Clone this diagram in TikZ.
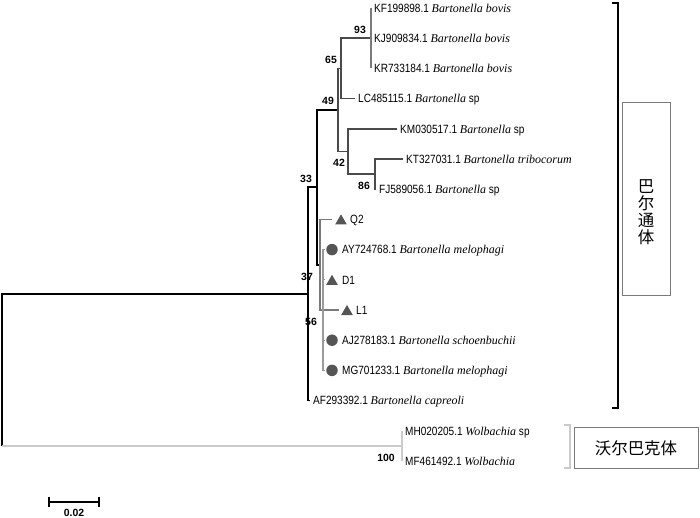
\documentclass[tikz,border=0pt]{standalone}
\usepackage{fontspec}
\setmainfont{Liberation Serif}
\newfontfamily\accfont[FakeStretch=0.84]{Liberation Sans}
\newfontfamily\bsfont{Liberation Sans}
\newfontfamily\cjk{Noto Sans CJK SC}
\usetikzlibrary{positioning}
\usetikzlibrary{shapes.geometric}
\usetikzlibrary{arrows.meta}
\definecolor{dg}{HTML}{4A4A4A}
\definecolor{mg}{HTML}{7A7A7A}
\definecolor{pg}{HTML}{9A9A9A}
\definecolor{lg}{HTML}{CBCBCB}
\definecolor{mk}{HTML}{555555}
\newcommand{\taxon}[1]{{\rmfamily\itshape #1}}
\tikzstyle{tree}=[x=1bp, y=-1bp, line join=miter]
\tikzstyle{brB}=[draw=black, line width=1.7bp]
\tikzstyle{br}=[draw=dg, line width=1.5bp]
\tikzstyle{brG}=[draw=mg, line width=1.3bp]
\tikzstyle{brP}=[draw=pg, line width=1.2bp]
\tikzstyle{brL}=[draw=lg, line width=1.5bp]
\tikzstyle{lf}=[anchor=west, inner sep=0pt, xshift=3bp, text height=8.6bp, text depth=0pt, font=\fontsize{12}{14}\selectfont\accfont]
\tikzstyle{bs}=[inner sep=0pt, font=\fontsize{10.5}{12}\selectfont\bsfont\bfseries]
\tikzstyle{tri}=[regular polygon, regular polygon sides=3, fill=mk, inner sep=0pt, minimum size=13.5bp, yshift=-1.7bp]
\tikzstyle{dot}=[circle, fill=mk, inner sep=0pt, minimum size=11.5bp]
\tikzstyle{box}=[draw=mg, line width=1bp, inner sep=0pt]
\tikzstyle{cn}=[inner sep=0pt, font=\fontsize{16.5}{17}\selectfont\cjk]

\begin{document}
\begin{tikzpicture}[tree]
	\useasboundingbox (0,0) rectangle (700,518);
	%% inner nodes
	\coordinate (rootb) at (2,445.9);
	\coordinate (n56) at (308,293.9);
	\coordinate (n33) at (317,187.3);
	\coordinate (n49) at (338,109.9);
	\coordinate (n65) at (341,68.4);
	\coordinate (n93) at (371,38.2);
	\coordinate (n42) at (348,151.4);
	\coordinate (n86) at (375,174.1);
	\coordinate (n37) at (320,264.7);
	\coordinate (npol) at (323,310);
	\coordinate (nwol) at (402,445.9);
	%% leaves
	\coordinate (kf) at (371,8);
	\coordinate (kj) at (371,38.2);
	\coordinate (kr) at (371,68.4);
	\coordinate (lc) at (355,98.6);
	\coordinate (km) at (397,128.8);
	\coordinate (kt) at (403,159);
	\coordinate (fj) at (376,189.2);
	\coordinate (q2) at (332,219.4);
	\coordinate (ay) at (325,249.6);
	\coordinate (d1) at (325,279.8);
	\coordinate (l1) at (339,310);
	\coordinate (aj) at (325,340.2);
	\coordinate (mg) at (325,370.4);
	\coordinate (af) at (310,400.6);
	\coordinate (mh) at (402,430.8);
	\coordinate (mf) at (402,461);
	%%%%%%
	\draw[brB] (n56) -| (rootb);
	\draw[brL] (rootb) -- (nwol);
	\draw[brB] (n56) |- (n33);
	\draw[brB] (n56) |- (af);
	\draw[brB] (n33) |- (n49);
	\draw[brB] (n33) |- (n37);
	%%
	\draw[br] (n49) |- (n65);
	\draw[br] (n49) |- (n42);
	\draw[br] (n65) |- (n93);
	\draw[br] (n65) |- (lc);
	\draw[brG] (n93) -- (kf);
	\draw[brG] (n93) -- (kr);
	\draw[br] (n42) |- (km);
	\draw[br] (n42) |- (n86);
	\draw[br] (n86) |- (kt);
	\draw[br] (n86) |- (fj);
	%%
	\draw[brG] (n37) |- (q2);
	\draw[brG] (n37) |- (l1);
	\draw[brP] (npol) |- (ay);
	\draw[brP] (npol) |- (d1);
	\draw[brP] (npol) |- (aj);
	\draw[brP] (npol) |- (mg);
	%%
	\draw[brL] (nwol) -- (mh);
	\draw[brL] (nwol) -- (mf);
	%%%%%%
	\node[lf] (kfL) at (kf) {KF199898.1 \taxon{Bartonella bovis}};
	\node[lf] (kjL) at (kj) {KJ909834.1 \taxon{Bartonella bovis}};
	\node[lf] (krL) at (kr) {KR733184.1 \taxon{Bartonella bovis}};
	\node[lf] (lcL) at (lc) {LC485115.1 \taxon{Bartonella} sp};
	\node[lf] (kmL) at (km) {KM030517.1 \taxon{Bartonella} sp};
	\node[lf] (ktL) at (kt) {KT327031.1 \taxon{Bartonella tribocorum}};
	\node[lf] (fjL) at (fj) {FJ589056.1 \taxon{Bartonella} sp};
	\node[lf] (afL) at (af) {AF293392.1 \taxon{Bartonella capreoli}};
	\node[lf] (mhL) at (mh) {MH020205.1 \taxon{Wolbachia} sp};
	\node[lf] (mfL) at (mf) {MF461492.1 \taxon{Wolbachia}};
	%%
	\node[tri, xshift=9bp] (q2m) at (q2) {};
	\node[lf] (q2L) at ([xshift=15bp]q2) {Q2};
	\node[dot, xshift=7bp] (aym) at (ay) {};
	\node[lf] (ayL) at ([xshift=14bp]ay) {AY724768.1 \taxon{Bartonella melophagi}};
	\node[tri, xshift=7bp] (d1m) at (d1) {};
	\node[lf] (d1L) at ([xshift=14bp]d1) {D1};
	\node[tri, xshift=8bp] (l1m) at (l1) {};
	\node[lf] (l1L) at ([xshift=14bp]l1) {L1};
	\node[dot, xshift=7bp] (ajm) at (aj) {};
	\node[lf] (ajL) at ([xshift=14bp]aj) {AJ278183.1 \taxon{Bartonella schoenbuchii}};
	\node[dot, xshift=7bp] (mgm) at (mg) {};
	\node[lf] (mgL) at ([xshift=14bp]mg) {MG701233.1 \taxon{Bartonella melophagi}};
	%%%%%%
	\node[bs] (b93) at (360,30) {93};
	\node[bs] (b65) at (331,60) {65};
	\node[bs] (b49) at (328,101) {49};
	\node[bs] (b42) at (339,163) {42};
	\node[bs] (b86) at (364,186) {86};
	\node[bs] (b33) at (306,179) {33};
	\node[bs] (b37) at (307,277) {37};
	\node[bs] (b56) at (311,322) {56};
	\node[bs] (b100) at (386,458) {100};
	%%%%%%
	\coordinate (bartT) at (612,3);
	\coordinate (bartB) at (612,408);
	\draw[brB] (bartT) -- ++(6,0) |- (bartB);
	\node[box, minimum width=48bp, minimum height=192bp] (bartBox) at (646,199) {};
	\node[cn, align=center] (bartTxt) at (646,212) {巴\\尔\\通\\体};
	%%
	\coordinate (wolT) at (564,425);
	\coordinate (wolB) at (564,468);
	\draw[brL] (wolT) -- ++(6,0) |- (wolB);
	\node[box, minimum width=124bp, minimum height=41bp] (wolBox) at (636,447.5) {};
	\node[cn] (wolTxt) at (636,448) {沃尔巴克体};
	%%%%%%
	\coordinate (sbL) at (48,502);
	\coordinate (sbR) at (100,502);
	\draw[brB, {Bar[width=10bp]}-{Bar[width=10bp]}] (sbL) -- (sbR);
	\node[bs] (sbT) at (74,513) {0.02};
\end{tikzpicture}
\end{document}
